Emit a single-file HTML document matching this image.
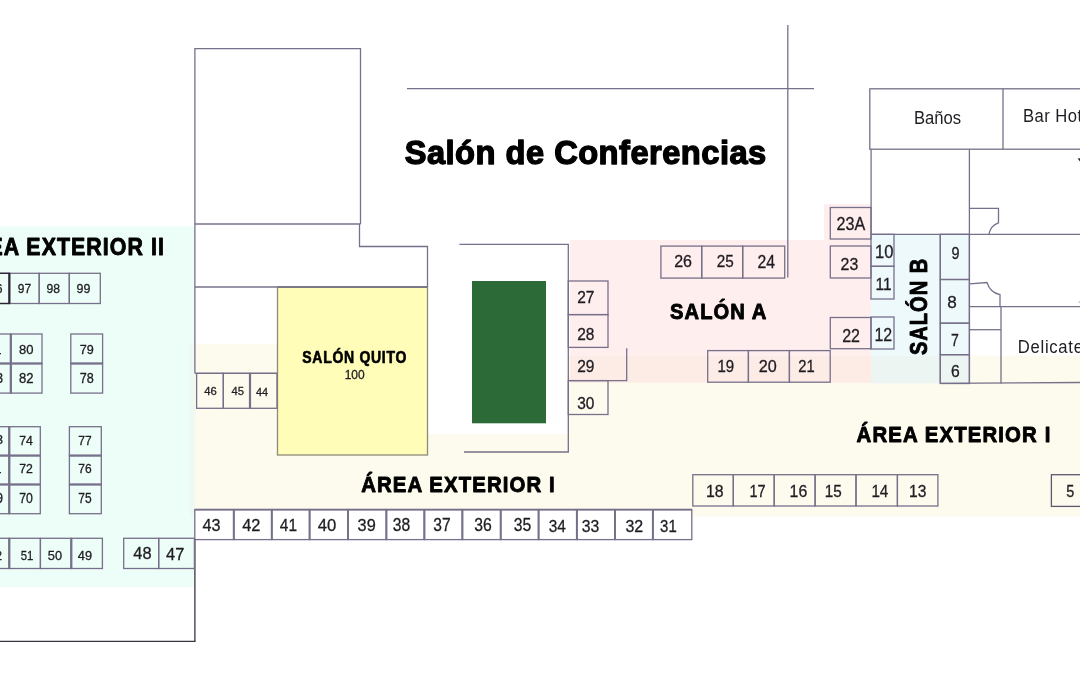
<!DOCTYPE html>
<html><head><meta charset="utf-8"><style>
html,body{margin:0;padding:0;background:#fff;width:1080px;height:675px;overflow:hidden}
svg{display:block;will-change:transform}
text{font-family:"Liberation Sans",sans-serif}
</style></head><body>
<svg width="1080" height="675" viewBox="0 0 1080 675">
<rect x="0.0" y="226.5" width="195.0" height="360.9" fill="#edfdf8" />
<path d="M195,343.7 H278 V455 H428 V434 H568.3 V355.7 H1080 V516.5 H195 Z" fill="#fdfaee"/>
<rect x="190.0" y="343.7" width="5.0" height="172.8" fill="#eef9f2" />
<rect x="570.0" y="240.0" width="301.0" height="115.7" fill="#feeeee" />
<rect x="824.0" y="204.0" width="47.0" height="36.0" fill="#feeeee" />
<rect x="570.0" y="355.7" width="301.0" height="27.1" fill="#fdece6" />
<rect x="871.0" y="234.3" width="98.5" height="121.4" fill="#eef9fb" />
<rect x="871.0" y="355.7" width="98.5" height="27.8" fill="#ecf5f2" />
<rect x="277.5" y="287.0" width="150.0" height="168.0" fill="#fffdb8" />
<rect x="472.0" y="281.0" width="74.0" height="142.3" fill="#2c6b37" />
<path d="M194.9,373.3 L194.9,48.7 L360.5,48.7 L360.5,224.0" fill="none" stroke="#77708a" stroke-width="1.3"/>
<line x1="194.9" y1="224.0" x2="360.5" y2="224.0" stroke="#77708a" stroke-width="1.3"/>
<path d="M359.5,224.0 L359.5,246.5 L427.5,246.5 L427.5,287.0" fill="none" stroke="#77708a" stroke-width="1.3"/>
<line x1="194.9" y1="287.0" x2="427.5" y2="287.0" stroke="#77708a" stroke-width="1.3"/>
<line x1="194.9" y1="373.3" x2="278.0" y2="373.3" stroke="#77708a" stroke-width="1.3"/>
<rect x="277.5" y="287.0" width="150.0" height="168.0" fill="none" stroke="#8c8a7a" stroke-width="1.3"/>
<line x1="277.5" y1="287.0" x2="427.5" y2="287.0" stroke="#77708a" stroke-width="1.3"/>
<rect x="196.6" y="373.3" width="26.7" height="35.0" fill="none" stroke="#77708a" stroke-width="1.3"/>
<rect x="223.3" y="373.3" width="26.7" height="35.0" fill="none" stroke="#77708a" stroke-width="1.3"/>
<rect x="250.0" y="373.3" width="27.0" height="35.0" fill="none" stroke="#77708a" stroke-width="1.3"/>
<line x1="250.0" y1="373.3" x2="250.0" y2="408.3" stroke="#77708a" stroke-width="2.2"/>
<text font-size="11.27" font-weight="normal" fill="#1f1c22" stroke="#1f1c22" stroke-width="0.3" transform="translate(204.30 395.39) scale(0.999 1)" >46</text>
<text font-size="11.43" font-weight="normal" fill="#1f1c22" stroke="#1f1c22" stroke-width="0.3" transform="translate(231.60 395.39) scale(0.985 1)" >45</text>
<text font-size="11.59" font-weight="normal" fill="#1f1c22" stroke="#1f1c22" stroke-width="0.3" transform="translate(255.90 395.50) scale(0.940 1)" >44</text>
<line x1="407.0" y1="88.6" x2="814.0" y2="88.6" stroke="#77708a" stroke-width="1.3"/>
<line x1="787.8" y1="25.0" x2="787.8" y2="277.5" stroke="#77708a" stroke-width="1.3"/>
<path d="M459.4,244.4 L568.3,244.4 L568.3,452.0 L464.0,452.0" fill="none" stroke="#77708a" stroke-width="1.3"/>
<rect x="568.3" y="281.0" width="39.7" height="33.6" fill="none" stroke="#77708a" stroke-width="1.3"/>
<rect x="568.3" y="314.6" width="39.7" height="32.8" fill="none" stroke="#77708a" stroke-width="1.3"/>
<path d="M626.7,348.3 L626.7,380.6 L568.3,380.6" fill="none" stroke="#77708a" stroke-width="1.3"/>
<rect x="568.3" y="380.6" width="39.7" height="33.9" fill="none" stroke="#77708a" stroke-width="1.3"/>
<text font-size="17.14" font-weight="normal" fill="#1f1c22" stroke="#1f1c22" stroke-width="0.3" transform="translate(577.20 302.50) scale(0.904 1)" >27</text>
<text font-size="17.32" font-weight="normal" fill="#1f1c22" stroke="#1f1c22" stroke-width="0.3" transform="translate(577.20 339.83) scale(0.894 1)" >28</text>
<text font-size="17.18" font-weight="normal" fill="#1f1c22" stroke="#1f1c22" stroke-width="0.3" transform="translate(577.20 372.03) scale(0.902 1)" >29</text>
<text font-size="16.62" font-weight="normal" fill="#1f1c22" stroke="#1f1c22" stroke-width="0.3" transform="translate(577.20 409.23) scale(0.932 1)" >30</text>
<rect x="660.9" y="246.1" width="40.8" height="32.0" fill="none" stroke="#77708a" stroke-width="1.3"/>
<rect x="701.7" y="246.1" width="41.0" height="32.0" fill="none" stroke="#77708a" stroke-width="1.3"/>
<rect x="742.7" y="246.1" width="42.0" height="32.0" fill="none" stroke="#77708a" stroke-width="1.3"/>
<text font-size="17.18" font-weight="normal" fill="#1f1c22" stroke="#1f1c22" stroke-width="0.3" transform="translate(674.20 267.33) scale(0.933 1)" >26</text>
<text font-size="17.18" font-weight="normal" fill="#1f1c22" stroke="#1f1c22" stroke-width="0.3" transform="translate(716.70 267.33) scale(0.891 1)" >25</text>
<text font-size="17.43" font-weight="normal" fill="#1f1c22" stroke="#1f1c22" stroke-width="0.3" transform="translate(757.50 267.50) scale(0.905 1)" >24</text>
<rect x="830.3" y="207.5" width="40.7" height="31.5" fill="none" stroke="#77708a" stroke-width="1.3"/>
<rect x="830.3" y="246.0" width="40.7" height="32.0" fill="none" stroke="#77708a" stroke-width="1.3"/>
<rect x="830.3" y="317.5" width="40.7" height="31.2" fill="none" stroke="#77708a" stroke-width="1.3"/>
<text font-size="17.89" font-weight="normal" fill="#1f1c22" stroke="#1f1c22" stroke-width="0.3" transform="translate(836.50 230.42) scale(0.901 1)" >23A</text>
<text font-size="17.18" font-weight="normal" fill="#1f1c22" stroke="#1f1c22" stroke-width="0.3" transform="translate(840.60 269.53) scale(0.928 1)" >23</text>
<text font-size="18.00" font-weight="normal" fill="#1f1c22" stroke="#1f1c22" stroke-width="0.3" transform="translate(842.20 342.00) scale(0.891 1)" >22</text>
<rect x="707.7" y="350.6" width="40.7" height="31.6" fill="none" stroke="#77708a" stroke-width="1.3"/>
<rect x="748.4" y="350.6" width="41.0" height="31.6" fill="none" stroke="#77708a" stroke-width="1.3"/>
<rect x="789.4" y="350.6" width="40.8" height="31.6" fill="none" stroke="#77708a" stroke-width="1.3"/>
<text font-size="16.48" font-weight="normal" fill="#1f1c22" stroke="#1f1c22" stroke-width="0.3" transform="translate(717.50 371.54) scale(0.913 1)" >19</text>
<text font-size="16.48" font-weight="normal" fill="#1f1c22" stroke="#1f1c22" stroke-width="0.3" transform="translate(758.70 371.54) scale(0.984 1)" >20</text>
<text font-size="16.71" font-weight="normal" fill="#1f1c22" stroke="#1f1c22" stroke-width="0.3" transform="translate(798.30 371.70) scale(0.884 1)" >21</text>
<rect x="869.8" y="88.8" width="220.2" height="60.4" fill="none" stroke="#77708a" stroke-width="1.3"/>
<line x1="1003.0" y1="88.8" x2="1003.0" y2="149.2" stroke="#77708a" stroke-width="1.3"/>
<line x1="871.1" y1="149.2" x2="871.1" y2="234.3" stroke="#77708a" stroke-width="1.3"/>
<line x1="969.4" y1="149.2" x2="969.4" y2="383.5" stroke="#77708a" stroke-width="1.3"/>
<line x1="871.0" y1="234.3" x2="1080.0" y2="234.3" stroke="#77708a" stroke-width="1.3"/>
<rect x="871.0" y="234.3" width="23.0" height="32.0" fill="none" stroke="#77708a" stroke-width="1.3"/>
<rect x="871.0" y="266.3" width="23.0" height="32.7" fill="none" stroke="#77708a" stroke-width="1.3"/>
<rect x="871.0" y="317.0" width="23.0" height="32.0" fill="none" stroke="#77708a" stroke-width="1.3"/>
<text font-size="17.46" font-weight="normal" fill="#1f1c22" stroke="#1f1c22" stroke-width="0.3" transform="translate(875.10 257.73) scale(0.949 1)" >10</text>
<text font-size="17.39" font-weight="normal" fill="#1f1c22" stroke="#1f1c22" stroke-width="0.3" transform="translate(875.60 289.70) scale(0.890 1)" >11</text>
<text font-size="18.71" font-weight="normal" fill="#1f1c22" stroke="#1f1c22" stroke-width="0.3" transform="translate(874.40 340.70) scale(0.852 1)" >12</text>
<line x1="940.3" y1="234.3" x2="940.3" y2="383.5" stroke="#77708a" stroke-width="1.3"/>
<rect x="940.3" y="234.3" width="29.1" height="45.2" fill="none" stroke="#77708a" stroke-width="1.3"/>
<rect x="940.3" y="279.5" width="29.1" height="43.7" fill="none" stroke="#77708a" stroke-width="1.3"/>
<rect x="940.3" y="323.2" width="29.1" height="31.5" fill="none" stroke="#77708a" stroke-width="1.3"/>
<rect x="940.3" y="354.7" width="29.1" height="28.8" fill="none" stroke="#77708a" stroke-width="1.3"/>
<text font-size="16.62" font-weight="normal" fill="#1f1c22" stroke="#1f1c22" stroke-width="0.3" transform="translate(951.60 259.43) scale(0.867 1)" >9</text>
<text font-size="16.76" font-weight="normal" fill="#1f1c22" stroke="#1f1c22" stroke-width="0.3" transform="translate(947.30 308.43) scale(1.021 1)" >8</text>
<text font-size="17.25" font-weight="normal" fill="#1f1c22" stroke="#1f1c22" stroke-width="0.3" transform="translate(950.90 346.00) scale(0.815 1)" >7</text>
<text font-size="15.63" font-weight="normal" fill="#1f1c22" stroke="#1f1c22" stroke-width="0.3" transform="translate(950.90 377.04) scale(1.003 1)" >6</text>
<path d="M969.6,208.4 H998.5 V222.8 Q990.5,225.5 988.9,234.4" fill="none" stroke="#77708a" stroke-width="1.3"/>
<path d="M969.6,283.9 L987,282.5 Q990,292.5 1000,294.7 V306.6" fill="none" stroke="#77708a" stroke-width="1.3"/>
<line x1="969.4" y1="306.6" x2="1080.0" y2="306.6" stroke="#77708a" stroke-width="1.3"/>
<line x1="1001.0" y1="306.6" x2="1001.0" y2="383.5" stroke="#77708a" stroke-width="1.3"/>
<line x1="969.4" y1="329.7" x2="1001.0" y2="329.7" stroke="#77708a" stroke-width="1.3"/>
<line x1="940.3" y1="383.3" x2="1080.0" y2="382.5" stroke="#77708a" stroke-width="1.3"/>
<rect x="194.8" y="509.6" width="39.0" height="30.0" fill="#fff" stroke="#77708a" stroke-width="1.3"/>
<rect x="233.8" y="509.6" width="38.0" height="30.0" fill="#fff" stroke="#77708a" stroke-width="1.3"/>
<rect x="271.8" y="509.6" width="37.8" height="30.0" fill="#fff" stroke="#77708a" stroke-width="1.3"/>
<rect x="309.6" y="509.6" width="38.4" height="30.0" fill="#fff" stroke="#77708a" stroke-width="1.3"/>
<rect x="348.0" y="509.6" width="38.4" height="30.0" fill="#fff" stroke="#77708a" stroke-width="1.3"/>
<rect x="386.4" y="509.6" width="38.0" height="30.0" fill="#fff" stroke="#77708a" stroke-width="1.3"/>
<rect x="424.4" y="509.6" width="38.0" height="30.0" fill="#fff" stroke="#77708a" stroke-width="1.3"/>
<rect x="462.4" y="509.6" width="38.3" height="30.0" fill="#fff" stroke="#77708a" stroke-width="1.3"/>
<rect x="500.7" y="509.6" width="37.9" height="30.0" fill="#fff" stroke="#77708a" stroke-width="1.3"/>
<rect x="538.6" y="509.6" width="38.3" height="30.0" fill="#fff" stroke="#77708a" stroke-width="1.3"/>
<rect x="576.9" y="509.6" width="38.1" height="30.0" fill="#fff" stroke="#77708a" stroke-width="1.3"/>
<rect x="615.0" y="509.6" width="37.9" height="30.0" fill="#fff" stroke="#77708a" stroke-width="1.3"/>
<rect x="652.9" y="509.6" width="38.9" height="30.0" fill="#fff" stroke="#77708a" stroke-width="1.3"/>
<line x1="233.8" y1="509.6" x2="233.8" y2="539.6" stroke="#77708a" stroke-width="2.0"/>
<line x1="271.8" y1="509.6" x2="271.8" y2="539.6" stroke="#77708a" stroke-width="2.0"/>
<line x1="309.6" y1="509.6" x2="309.6" y2="539.6" stroke="#77708a" stroke-width="2.0"/>
<line x1="348.0" y1="509.6" x2="348.0" y2="539.6" stroke="#77708a" stroke-width="2.0"/>
<line x1="386.4" y1="509.6" x2="386.4" y2="539.6" stroke="#77708a" stroke-width="2.0"/>
<line x1="424.4" y1="509.6" x2="424.4" y2="539.6" stroke="#77708a" stroke-width="2.0"/>
<line x1="462.4" y1="509.6" x2="462.4" y2="539.6" stroke="#77708a" stroke-width="2.0"/>
<line x1="500.7" y1="509.6" x2="500.7" y2="539.6" stroke="#77708a" stroke-width="2.0"/>
<line x1="538.6" y1="509.6" x2="538.6" y2="539.6" stroke="#77708a" stroke-width="2.0"/>
<line x1="576.9" y1="509.6" x2="576.9" y2="539.6" stroke="#77708a" stroke-width="2.0"/>
<line x1="615.0" y1="509.6" x2="615.0" y2="539.6" stroke="#77708a" stroke-width="2.0"/>
<line x1="652.9" y1="509.6" x2="652.9" y2="539.6" stroke="#77708a" stroke-width="2.0"/>
<line x1="194.8" y1="509.6" x2="691.8" y2="509.6" stroke="#77708a" stroke-width="1.6"/>
<text font-size="16.90" font-weight="normal" fill="#1f1c22" stroke="#1f1c22" stroke-width="0.3" transform="translate(202.60 530.73) scale(0.959 1)" >43</text>
<text font-size="17.14" font-weight="normal" fill="#1f1c22" stroke="#1f1c22" stroke-width="0.3" transform="translate(242.20 530.90) scale(0.956 1)" >42</text>
<text font-size="17.39" font-weight="normal" fill="#1f1c22" stroke="#1f1c22" stroke-width="0.3" transform="translate(279.80 530.90) scale(0.891 1)" >41</text>
<text font-size="16.90" font-weight="normal" fill="#1f1c22" stroke="#1f1c22" stroke-width="0.3" transform="translate(317.80 530.73) scale(0.986 1)" >40</text>
<text font-size="16.90" font-weight="normal" fill="#1f1c22" stroke="#1f1c22" stroke-width="0.3" transform="translate(357.60 530.73) scale(0.965 1)" >39</text>
<text font-size="17.61" font-weight="normal" fill="#1f1c22" stroke="#1f1c22" stroke-width="0.3" transform="translate(392.80 530.62) scale(0.890 1)" >38</text>
<text font-size="17.61" font-weight="normal" fill="#1f1c22" stroke="#1f1c22" stroke-width="0.3" transform="translate(433.30 530.62) scale(0.885 1)" >37</text>
<text font-size="17.61" font-weight="normal" fill="#1f1c22" stroke="#1f1c22" stroke-width="0.3" transform="translate(474.20 530.62) scale(0.895 1)" >36</text>
<text font-size="17.61" font-weight="normal" fill="#1f1c22" stroke="#1f1c22" stroke-width="0.3" transform="translate(513.70 530.52) scale(0.895 1)" >35</text>
<text font-size="16.90" font-weight="normal" fill="#1f1c22" stroke="#1f1c22" stroke-width="0.3" transform="translate(548.70 532.03) scale(0.911 1)" >34</text>
<text font-size="16.90" font-weight="normal" fill="#1f1c22" stroke="#1f1c22" stroke-width="0.3" transform="translate(581.80 532.03) scale(0.933 1)" >33</text>
<text font-size="16.90" font-weight="normal" fill="#1f1c22" stroke="#1f1c22" stroke-width="0.3" transform="translate(625.50 532.03) scale(0.943 1)" >32</text>
<text font-size="16.90" font-weight="normal" fill="#1f1c22" stroke="#1f1c22" stroke-width="0.3" transform="translate(660.10 532.03) scale(0.885 1)" >31</text>
<line x1="0.0" y1="641.4" x2="195.5" y2="641.4" stroke="#3a3540" stroke-width="1.3"/>
<line x1="194.9" y1="539.6" x2="194.9" y2="641.4" stroke="#3a3540" stroke-width="1.3"/>
<rect x="692.8" y="474.7" width="40.5" height="31.3" fill="none" stroke="#77708a" stroke-width="1.3"/>
<rect x="733.3" y="474.7" width="40.9" height="31.3" fill="none" stroke="#77708a" stroke-width="1.3"/>
<rect x="774.2" y="474.7" width="40.9" height="31.3" fill="none" stroke="#77708a" stroke-width="1.3"/>
<rect x="815.1" y="474.7" width="40.9" height="31.3" fill="none" stroke="#77708a" stroke-width="1.3"/>
<rect x="856.0" y="474.7" width="41.4" height="31.3" fill="none" stroke="#77708a" stroke-width="1.3"/>
<rect x="897.4" y="474.7" width="40.5" height="31.3" fill="none" stroke="#77708a" stroke-width="1.3"/>
<text font-size="16.34" font-weight="normal" fill="#1f1c22" stroke="#1f1c22" stroke-width="0.3" transform="translate(706.00 496.74) scale(0.970 1)" >18</text>
<text font-size="16.81" font-weight="normal" fill="#1f1c22" stroke="#1f1c22" stroke-width="0.3" transform="translate(749.40 496.90) scale(0.863 1)" >17</text>
<text font-size="16.34" font-weight="normal" fill="#1f1c22" stroke="#1f1c22" stroke-width="0.3" transform="translate(789.60 496.74) scale(0.970 1)" >16</text>
<text font-size="16.57" font-weight="normal" fill="#1f1c22" stroke="#1f1c22" stroke-width="0.3" transform="translate(824.70 496.73) scale(0.919 1)" >15</text>
<text font-size="16.81" font-weight="normal" fill="#1f1c22" stroke="#1f1c22" stroke-width="0.3" transform="translate(871.40 496.90) scale(0.906 1)" >14</text>
<text font-size="16.34" font-weight="normal" fill="#1f1c22" stroke="#1f1c22" stroke-width="0.3" transform="translate(909.00 496.74) scale(0.954 1)" >13</text>
<rect x="1051.4" y="474.7" width="48.6" height="31.7" fill="none" stroke="#5e5870" stroke-width="1.3"/>
<text font-size="17.00" font-weight="normal" fill="#1f1c22" stroke="#1f1c22" stroke-width="0.3" transform="translate(1066.20 497.03) scale(0.848 1)" >5</text>
<rect x="-21.0" y="273.3" width="30.4" height="30.2" fill="none" stroke="#77708a" stroke-width="1.3"/>
<rect x="9.4" y="273.3" width="29.8" height="30.2" fill="none" stroke="#77708a" stroke-width="1.3"/>
<rect x="39.2" y="273.3" width="30.1" height="30.2" fill="none" stroke="#77708a" stroke-width="1.3"/>
<rect x="69.3" y="273.3" width="31.0" height="30.2" fill="none" stroke="#77708a" stroke-width="1.3"/>
<rect x="-21.0" y="273.3" width="30.4" height="30.2" fill="none" stroke="#2a2630" stroke-width="1.3"/>
<line x1="9.4" y1="273.3" x2="9.4" y2="303.5" stroke="#2a2535" stroke-width="2.0"/>
<text font-size="13.38" font-weight="normal" fill="#1f1c22" stroke="#1f1c22" stroke-width="0.3" transform="translate(-11.00 293.17) scale(0.909 1)" >96</text>
<text font-size="13.38" font-weight="normal" fill="#1f1c22" stroke="#1f1c22" stroke-width="0.3" transform="translate(17.80 293.17) scale(0.895 1)" >97</text>
<text font-size="13.38" font-weight="normal" fill="#1f1c22" stroke="#1f1c22" stroke-width="0.3" transform="translate(46.60 293.17) scale(0.909 1)" >98</text>
<text font-size="13.38" font-weight="normal" fill="#1f1c22" stroke="#1f1c22" stroke-width="0.3" transform="translate(76.60 293.17) scale(0.929 1)" >99</text>
<rect x="-21.0" y="334.0" width="31.8" height="29.5" fill="none" stroke="#77708a" stroke-width="1.3"/>
<rect x="10.8" y="334.0" width="31.2" height="29.5" fill="none" stroke="#77708a" stroke-width="1.3"/>
<rect x="-21.0" y="363.5" width="31.8" height="29.6" fill="none" stroke="#77708a" stroke-width="1.3"/>
<rect x="10.8" y="363.5" width="31.2" height="29.6" fill="none" stroke="#77708a" stroke-width="1.3"/>
<line x1="10.8" y1="334.0" x2="10.8" y2="393.1" stroke="#77708a" stroke-width="2.2"/>
<line x1="-1.0" y1="363.5" x2="42.0" y2="363.5" stroke="#77708a" stroke-width="2.0"/>
<text font-size="13.52" font-weight="normal" fill="#1f1c22" stroke="#1f1c22" stroke-width="0.3" transform="translate(-13.00 353.56) scale(0.966 1)" >81</text>
<text font-size="13.52" font-weight="normal" fill="#1f1c22" stroke="#1f1c22" stroke-width="0.3" transform="translate(18.90 353.56) scale(0.966 1)" >80</text>
<text font-size="13.94" font-weight="normal" fill="#1f1c22" stroke="#1f1c22" stroke-width="0.3" transform="translate(-11.00 383.36) scale(0.905 1)" >83</text>
<text font-size="13.94" font-weight="normal" fill="#1f1c22" stroke="#1f1c22" stroke-width="0.3" transform="translate(18.90 383.36) scale(0.937 1)" >82</text>
<rect x="70.8" y="334.0" width="31.8" height="29.5" fill="none" stroke="#77708a" stroke-width="1.3"/>
<rect x="70.8" y="363.5" width="31.8" height="29.6" fill="none" stroke="#77708a" stroke-width="1.3"/>
<line x1="70.8" y1="363.5" x2="102.6" y2="363.5" stroke="#77708a" stroke-width="2.0"/>
<text font-size="13.52" font-weight="normal" fill="#1f1c22" stroke="#1f1c22" stroke-width="0.3" transform="translate(79.80 353.56) scale(0.933 1)" >79</text>
<text font-size="13.94" font-weight="normal" fill="#1f1c22" stroke="#1f1c22" stroke-width="0.3" transform="translate(79.80 383.36) scale(0.905 1)" >78</text>
<rect x="-22.0" y="426.7" width="31.3" height="28.9" fill="none" stroke="#77708a" stroke-width="1.3"/>
<rect x="9.3" y="426.7" width="31.0" height="28.9" fill="none" stroke="#77708a" stroke-width="1.3"/>
<rect x="-22.0" y="455.6" width="31.3" height="28.9" fill="none" stroke="#77708a" stroke-width="1.3"/>
<rect x="9.3" y="455.6" width="31.0" height="28.9" fill="none" stroke="#77708a" stroke-width="1.3"/>
<rect x="-22.0" y="484.5" width="31.3" height="29.2" fill="none" stroke="#77708a" stroke-width="1.3"/>
<rect x="9.3" y="484.5" width="31.0" height="29.2" fill="none" stroke="#77708a" stroke-width="1.3"/>
<line x1="9.3" y1="426.7" x2="9.3" y2="513.7" stroke="#77708a" stroke-width="2.2"/>
<line x1="-1.0" y1="455.6" x2="40.3" y2="455.6" stroke="#77708a" stroke-width="2.0"/>
<line x1="-1.0" y1="484.5" x2="40.3" y2="484.5" stroke="#77708a" stroke-width="2.0"/>
<text font-size="12.54" font-weight="normal" fill="#1f1c22" stroke="#1f1c22" stroke-width="0.3" transform="translate(-11.00 444.37) scale(1.006 1)" >73</text>
<text font-size="12.90" font-weight="normal" fill="#1f1c22" stroke="#1f1c22" stroke-width="0.3" transform="translate(19.30 444.50) scale(0.950 1)" >74</text>
<text font-size="12.90" font-weight="normal" fill="#1f1c22" stroke="#1f1c22" stroke-width="0.3" transform="translate(-13.00 473.40) scale(1.013 1)" >71</text>
<text font-size="12.71" font-weight="normal" fill="#1f1c22" stroke="#1f1c22" stroke-width="0.3" transform="translate(19.30 473.40) scale(0.964 1)" >72</text>
<text font-size="13.80" font-weight="normal" fill="#1f1c22" stroke="#1f1c22" stroke-width="0.3" transform="translate(-11.00 503.36) scale(0.914 1)" >69</text>
<text font-size="13.80" font-weight="normal" fill="#1f1c22" stroke="#1f1c22" stroke-width="0.3" transform="translate(19.30 503.36) scale(0.888 1)" >70</text>
<rect x="69.4" y="426.7" width="31.9" height="28.9" fill="none" stroke="#77708a" stroke-width="1.3"/>
<rect x="69.4" y="455.6" width="31.9" height="28.9" fill="none" stroke="#77708a" stroke-width="1.3"/>
<rect x="69.4" y="484.5" width="31.9" height="29.2" fill="none" stroke="#77708a" stroke-width="1.3"/>
<line x1="69.4" y1="455.6" x2="101.3" y2="455.6" stroke="#77708a" stroke-width="2.0"/>
<line x1="69.4" y1="484.5" x2="101.3" y2="484.5" stroke="#77708a" stroke-width="2.0"/>
<text font-size="12.90" font-weight="normal" fill="#1f1c22" stroke="#1f1c22" stroke-width="0.3" transform="translate(78.30 444.50) scale(0.929 1)" >77</text>
<text font-size="12.54" font-weight="normal" fill="#1f1c22" stroke="#1f1c22" stroke-width="0.3" transform="translate(78.30 473.27) scale(0.956 1)" >76</text>
<text font-size="14.00" font-weight="normal" fill="#1f1c22" stroke="#1f1c22" stroke-width="0.3" transform="translate(78.30 503.36) scale(0.856 1)" >75</text>
<rect x="-21.0" y="538.3" width="30.3" height="30.2" fill="none" stroke="#77708a" stroke-width="1.3"/>
<rect x="9.3" y="538.3" width="31.1" height="30.2" fill="none" stroke="#77708a" stroke-width="1.3"/>
<rect x="40.4" y="538.3" width="30.9" height="30.2" fill="none" stroke="#77708a" stroke-width="1.3"/>
<rect x="71.3" y="538.3" width="31.1" height="30.2" fill="none" stroke="#77708a" stroke-width="1.3"/>
<line x1="9.3" y1="538.3" x2="9.3" y2="568.5" stroke="#77708a" stroke-width="2.2"/>
<line x1="71.3" y1="538.3" x2="71.3" y2="568.5" stroke="#77708a" stroke-width="2.2"/>
<text font-size="13.10" font-weight="normal" fill="#1f1c22" stroke="#1f1c22" stroke-width="0.3" transform="translate(-11.00 559.87) scale(0.894 1)" >52</text>
<text font-size="13.29" font-weight="normal" fill="#1f1c22" stroke="#1f1c22" stroke-width="0.3" transform="translate(20.70 559.87) scale(0.854 1)" >51</text>
<text font-size="13.10" font-weight="normal" fill="#1f1c22" stroke="#1f1c22" stroke-width="0.3" transform="translate(47.80 559.87) scale(0.977 1)" >50</text>
<text font-size="12.25" font-weight="normal" fill="#1f1c22" stroke="#1f1c22" stroke-width="0.3" transform="translate(77.80 559.88) scale(1.044 1)" >49</text>
<rect x="123.7" y="538.3" width="35.0" height="30.2" fill="none" stroke="#77708a" stroke-width="1.3"/>
<rect x="158.7" y="538.3" width="35.7" height="30.2" fill="none" stroke="#77708a" stroke-width="1.3"/>
<text font-size="16.90" font-weight="normal" fill="#1f1c22" stroke="#1f1c22" stroke-width="0.3" transform="translate(133.30 559.43) scale(0.970 1)" >48</text>
<text font-size="17.39" font-weight="normal" fill="#1f1c22" stroke="#1f1c22" stroke-width="0.3" transform="translate(166.10 559.60) scale(0.943 1)" >47</text>
<text font-size="33.77" font-weight="bold" fill="#000" stroke="#000" stroke-width="1.4" stroke-linejoin="round" letter-spacing="0.5" transform="translate(404.68 164.00) scale(0.967 1)" >Salón de Conferencias</text>
<text font-size="18.55" font-weight="normal" fill="#1f1c22"   transform="translate(914.00 123.80) scale(0.897 1)" >Baños</text>
<text font-size="18.55" fill="#1f1c22" letter-spacing="0.5" transform="translate(1023 122.4) scale(0.897 1)">Bar Hotel</text>
<text font-size="18.55" fill="#1f1c22" letter-spacing="0.8" transform="translate(1017.8 352.5) scale(0.897 1)">Delicatessen</text>
<text font-size="23.99" font-weight="bold" fill="#000" stroke="#000" stroke-width="0.9" stroke-linejoin="round" letter-spacing="1.2" transform="translate(-44.57 254.6) scale(0.890 1)">ÁREA EXTERIOR II</text>
<text font-size="15.94" font-weight="bold" fill="#000" stroke="#000" stroke-width="0.6" stroke-linejoin="round" letter-spacing="0.8" transform="translate(302.26 363.30) scale(0.880 1)" >SALÓN QUITO</text>
<text font-size="12.54" font-weight="normal" fill="#1f1c22" stroke="#1f1c22" stroke-width="0.3" transform="translate(344.70 379.47) scale(0.955 1)" >100</text>
<text font-size="22.83" font-weight="bold" fill="#000" stroke="#000" stroke-width="0.9" stroke-linejoin="round" letter-spacing="1.2" transform="translate(670.00 318.50) scale(0.884 1)" >SALÓN A</text>
<text font-size="22.39" font-weight="bold" fill="#000" stroke="#000" stroke-width="0.9" stroke-linejoin="round" letter-spacing="1.2" transform="translate(361.21 492.20) scale(0.911 1)" >ÁREA EXTERIOR I</text>
<text font-size="21.81" font-weight="bold" fill="#000" stroke="#000" stroke-width="0.9" stroke-linejoin="round" letter-spacing="1.2" transform="translate(856.62 442.20) scale(0.934 1)" >ÁREA EXTERIOR I</text>
<text font-size="23.99" font-weight="bold" fill="#000" stroke="#000" stroke-width="0.9" stroke-linejoin="round" letter-spacing="1.2" transform="translate(926.5 355.02) rotate(-90) scale(0.836 1)">SALÓN B</text>
<path d="M1077.6,158.6 L1080,158.2 L1080,161.6 Z" fill="#2a2440"/>
<circle cx="1079.5" cy="302" r="1.2" fill="#d8d8d8"/>
</svg>
</body></html>
